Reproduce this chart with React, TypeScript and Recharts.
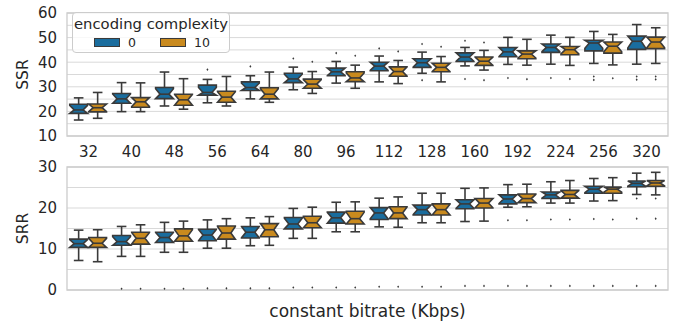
import React from 'react';
import {
  ComposedChart,
  Bar,
  XAxis,
  YAxis,
  CartesianGrid,
  ReferenceArea,
  Legend,
} from 'recharts';

// [whisker low, q1, median, q3, whisker high]
type Box = [number, number, number, number, number];

const categories = ['32', '40', '48', '56', '64', '80', '96', '112', '128', '160', '192', '224', '256', '320'];
const hueLabels = ['0', '10'];

const ssrBoxes0: Box[] = [
  [16.5, 19.2, 20.6, 22.9, 25.5],
  [19.9, 23.3, 25.1, 27.3, 31.7],
  [22.2, 25.2, 27.0, 29.7, 36.0],
  [23.5, 26.6, 27.7, 30.7, 33.0],
  [25.1, 28.5, 29.7, 32.0, 34.5],
  [28.8, 31.7, 33.2, 35.5, 38.0],
  [31.5, 34.5, 36.1, 37.6, 40.3],
  [32.0, 36.5, 38.4, 40.0, 42.5],
  [35.5, 37.9, 39.8, 41.4, 44.1],
  [38.5, 40.3, 42.1, 43.8, 46.0],
  [39.1, 42.2, 44.2, 46.0, 50.1],
  [39.2, 44.0, 46.0, 47.4, 51.0],
  [39.5, 44.6, 47.8, 48.9, 52.5],
  [39.2, 45.2, 48.5, 50.6, 55.3],
];
const ssrFliers0: number[][] = [
  [], [], [], [37.0], [38.3], [41.5], [43.7], [45.6], [47.4, 32.7], [48.7, 33.2],
  [33.6], [33.6], [34.2, 32.8], [34.2, 32.9],
];

const ssrBoxes1: Box[] = [
  [17.2, 19.8, 21.5, 23.0, 27.7],
  [19.9, 21.7, 23.9, 25.6, 31.6],
  [20.9, 22.5, 24.7, 27.0, 33.3],
  [22.2, 23.7, 25.8, 28.2, 34.2],
  [23.7, 25.1, 27.0, 29.6, 36.0],
  [27.3, 29.4, 31.1, 33.1, 36.2],
  [29.4, 32.1, 33.6, 36.1, 38.8],
  [31.3, 34.3, 36.2, 38.1, 40.7],
  [32.0, 36.1, 37.9, 39.6, 42.3],
  [36.8, 38.7, 40.4, 42.1, 44.8],
  [38.8, 41.4, 43.3, 44.6, 49.3],
  [38.7, 43.0, 45.1, 46.4, 50.1],
  [38.9, 43.7, 46.5, 48.2, 51.3],
  [39.5, 45.5, 48.2, 50.2, 54.0],
];
const ssrFliers1: number[][] = [
  [], [], [], [], [], [40.2], [42.6], [44.4], [46.3], [48.0, 32.7],
  [33.1], [33.2], [33.5], [34.2, 33.0],
];

const srrBoxes0: Box[] = [
  [7.2, 10.4, 11.3, 12.4, 14.6],
  [8.2, 10.9, 11.8, 13.3, 15.5],
  [9.2, 11.6, 12.8, 14.1, 16.5],
  [10.2, 12.0, 13.4, 14.8, 17.1],
  [10.8, 12.7, 14.1, 15.5, 17.6],
  [12.6, 14.9, 16.1, 17.7, 19.9],
  [14.2, 16.3, 17.6, 19.0, 21.4],
  [15.4, 17.2, 18.8, 20.1, 22.4],
  [16.4, 18.3, 19.6, 20.7, 23.6],
  [16.7, 19.8, 21.0, 22.0, 24.8],
  [20.2, 21.0, 22.2, 23.2, 25.7],
  [21.2, 22.3, 23.2, 23.9, 26.4],
  [21.7, 23.6, 24.6, 25.3, 27.2],
  [23.3, 25.2, 26.0, 26.6, 28.5],
];
const srrFliers0: number[][] = [
  [], [0.3], [0.3], [0.4], [0.4], [0.6], [0.6], [0.8], [0.8], [1.0],
  [17.0, 1.0], [17.2, 1.0], [17.3, 1.0], [22.3, 17.4, 1.0],
];

const srrBoxes1: Box[] = [
  [6.9, 10.4, 11.4, 12.8, 14.7],
  [8.2, 11.2, 12.6, 14.1, 15.9],
  [9.2, 11.9, 13.2, 14.9, 16.8],
  [10.2, 12.4, 13.9, 15.6, 17.4],
  [10.9, 13.0, 14.7, 16.2, 17.9],
  [12.6, 15.2, 16.4, 18.0, 20.2],
  [14.2, 16.1, 17.4, 19.2, 21.5],
  [15.3, 17.4, 18.8, 20.3, 22.7],
  [16.4, 18.3, 19.6, 21.0, 23.6],
  [16.8, 20.0, 21.2, 22.3, 24.9],
  [20.3, 21.3, 22.3, 23.4, 25.8],
  [21.2, 22.4, 23.3, 24.3, 26.7],
  [21.8, 23.6, 24.6, 25.1, 27.4],
  [23.2, 25.3, 26.1, 26.7, 28.7],
];
const srrFliers1: number[][] = [
  [], [0.3], [0.3], [0.4], [0.4], [0.6], [0.6], [0.8], [0.8], [1.0],
  [17.0, 1.0], [17.2, 1.0], [17.2, 1.0], [22.3, 17.4, 1.0],
];

const ssrTicks = [10, 15, 20, 25, 30, 35, 40, 45, 50, 55, 60];
const srrTicks = [0, 5, 10, 15, 20, 25, 30];

const COLORS = ['#1a6d9e', '#c98a1e'];
const LINE = '#3a3a3a';
const TEXT = '#262626';
const GRID = '#d9d9d9';
const SPINE = '#cccccc';
const FONT = '"DejaVu Sans", sans-serif';
const NOTCH_N = 10; // samples per box, used for notch size

interface Stats {
  box: Box;
  fliers: number[];
}

function buildRows(b0: Box[], f0: number[][], b1: Box[], f1: number[][]) {
  return categories.map((cat, i) => ({
    cat,
    h0: { box: b0[i], fliers: f0[i] } as Stats,
    h1: { box: b1[i], fliers: f1[i] } as Stats,
  }));
}

const ssrRows = buildRows(ssrBoxes0, ssrFliers0, ssrBoxes1, ssrFliers1);
const srrRows = buildRows(srrBoxes0, srrFliers0, srrBoxes1, srrFliers1);

function extent(s: Stats): [number, number] {
  const vals = [s.box[0], s.box[4], ...s.fliers];
  return [Math.min(...vals), Math.max(...vals)];
}

function BoxShape(props: any) {
  const { x, y, width, height, stats, fill } = props;
  if (!stats) return null;
  const [lo, hi] = extent(stats as Stats);
  const top = Math.min(y, y + height);
  const bottom = Math.max(y, y + height);
  const py = (v: number) => (hi === lo ? top : top + ((hi - v) / (hi - lo)) * (bottom - top));

  const [wlo, q1, med, q3, whi] = stats.box as Box;
  const half = (1.57 * (q3 - q1)) / Math.sqrt(NOTCH_N);
  const nlo = Math.max(q1, med - half);
  const nhi = Math.min(q3, med + half);

  const L = x + 0.6;
  const R = x + width - 0.6;
  const cx = x + width / 2;
  const pinch = (R - L) * 0.25;
  const cap = (R - L) * 0.27;

  const d = [
    `M${L},${py(q1)}`,
    `L${L},${py(nlo)}`,
    `L${cx - pinch},${py(med)}`,
    `L${L},${py(nhi)}`,
    `L${L},${py(q3)}`,
    `L${R},${py(q3)}`,
    `L${R},${py(nhi)}`,
    `L${cx + pinch},${py(med)}`,
    `L${R},${py(nlo)}`,
    `L${R},${py(q1)}`,
    'Z',
  ].join(' ');

  return (
    <g>
      <line x1={cx} x2={cx} y1={py(q3)} y2={py(whi)} stroke={LINE} strokeWidth={1.6} />
      <line x1={cx} x2={cx} y1={py(q1)} y2={py(wlo)} stroke={LINE} strokeWidth={1.6} />
      <line x1={cx - cap} x2={cx + cap} y1={py(whi)} y2={py(whi)} stroke={LINE} strokeWidth={1.6} />
      <line x1={cx - cap} x2={cx + cap} y1={py(wlo)} y2={py(wlo)} stroke={LINE} strokeWidth={1.6} />
      <path d={d} fill={fill} stroke={LINE} strokeWidth={1.6} strokeLinejoin="miter" />
      <line x1={cx - pinch} x2={cx + pinch} y1={py(med)} y2={py(med)} stroke={LINE} strokeWidth={1.6} />
      {(stats.fliers as number[]).map((v, i) => {
        const fy = py(v);
        return (
          <path
            key={i}
            d={`M${cx},${fy - 1.3} L${cx + 1},${fy} L${cx},${fy + 1.3} L${cx - 1},${fy} Z`}
            fill={LINE}
          />
        );
      })}
    </g>
  );
}

function LegendBox() {
  return (
    <div
      style={{
        background: 'rgba(255,255,255,0.8)',
        border: `1px solid ${SPINE}`,
        borderRadius: 4,
        width: 158,
        height: 41,
        fontFamily: FONT,
        color: TEXT,
        boxSizing: 'border-box',
      }}
    >
      <div style={{ textAlign: 'center', fontSize: 14.8, lineHeight: '16px', paddingTop: 3, whiteSpace: 'nowrap' }}>
        encoding complexity
      </div>
      <div style={{ display: 'flex', alignItems: 'center', height: 14, paddingLeft: 21, marginTop: 3 }}>
        {hueLabels.map((lab, i) => (
          <div key={lab} style={{ display: 'flex', alignItems: 'center', marginRight: 24 }}>
            <span
              style={{
                display: 'inline-block',
                width: 24,
                height: 7,
                background: COLORS[i],
                border: `1px solid ${LINE}`,
              }}
            />
            <span style={{ fontSize: 12.5, marginLeft: 8 }}>{lab}</span>
          </div>
        ))}
      </div>
    </div>
  );
}

const tickStyle = { fontSize: 15, fill: TEXT, fontFamily: FONT };

// axis titles drawn from the axis viewBox that Recharts hands over
function XTitle({ viewBox, value }: any) {
  if (!viewBox) return null;
  const { x, y, width, height } = viewBox;
  return (
    <text x={x + width / 2} y={y + height - 5} textAnchor="middle" fontSize={17} fill={TEXT} fontFamily={FONT}>
      {value}
    </text>
  );
}

function YTitle({ viewBox, value }: any) {
  if (!viewBox) return null;
  const { y, height } = viewBox;
  const cx = 28;
  const cy = y + height / 2;
  return (
    <text
      x={cx}
      y={cy}
      transform={`rotate(-90, ${cx}, ${cy})`}
      textAnchor="middle"
      fontSize={15.5}
      fill={TEXT}
      fontFamily={FONT}
    >
      {value}
    </text>
  );
}

function Panel({
  rows,
  ticks,
  domain,
  ylabel,
  top,
  height,
  margin,
  xHeight,
  showCats,
  showLegend,
}: {
  rows: any[];
  ticks: number[];
  domain: [number, number];
  ylabel: string;
  top: number;
  height: number;
  margin: { top: number; right: number; left: number; bottom: number };
  xHeight: number;
  showCats: boolean;
  showLegend: boolean;
}) {
  return (
    <div style={{ position: 'absolute', left: 0, top }}>
      <ComposedChart
        width={685}
        height={height}
        data={rows}
        margin={margin}
        barCategoryGap="5%"
        barGap={0}
      >
        <CartesianGrid horizontal vertical={false} stroke={GRID} strokeWidth={1} />
        <ReferenceArea y1={domain[0]} y2={domain[1]} fill="none" stroke={SPINE} strokeWidth={1.3} />
        <XAxis
          dataKey="cat"
          interval={0}
          axisLine={false}
          tickLine={false}
          tickSize={0}
          tickMargin={10}
          height={xHeight}
          tick={showCats ? tickStyle : false}
          label={showCats ? undefined : <XTitle value="constant bitrate (Kbps)" />}
        />
        <YAxis
          type="number"
          domain={domain}
          ticks={ticks}
          interval={0}
          tickFormatter={(v: number) => (v % 10 === 0 ? String(v) : '')}
          width={67}
          axisLine={false}
          tickLine={false}
          tickSize={0}
          tickMargin={10}
          tick={tickStyle}
          label={<YTitle value={ylabel} />}
        />
        {showLegend && (
          <Legend
            layout="horizontal"
            align="center"
            verticalAlign="middle"
            wrapperStyle={{ left: 72, top: 12, width: 'auto' }}
            content={() => <LegendBox />}
          />
        )}
        {['h0', 'h1'].map((key, i) => (
          <Bar
            key={key}
            dataKey={(d: any) => extent(d[key])}
            name={hueLabels[i]}
            fill={COLORS[i]}
            isAnimationActive={false}
            shape={(p: any) => <BoxShape {...p} stats={p.payload?.[key]} fill={COLORS[i]} />}
          />
        ))}
      </ComposedChart>
    </div>
  );
}

export default function App() {
  return (
    <div
      style={{
        position: 'absolute',
        left: 0,
        top: 0,
        width: 685,
        height: 322,
        background: '#fff',
        fontFamily: FONT,
      }}
    >
      <Panel
        rows={ssrRows}
        ticks={ssrTicks}
        domain={[10, 60]}
        ylabel="SSR"
        top={0}
        height={160}
        margin={{ top: 13, right: 17, left: 0, bottom: 0 }}
        xHeight={24}
        showCats
        showLegend
      />
      <Panel
        rows={srrRows}
        ticks={srrTicks}
        domain={[0, 30]}
        ylabel="SRR"
        top={150}
        height={172}
        margin={{ top: 17, right: 17, left: 0, bottom: 0 }}
        xHeight={32}
        showCats={false}
        showLegend={false}
      />
    </div>
  );
}
